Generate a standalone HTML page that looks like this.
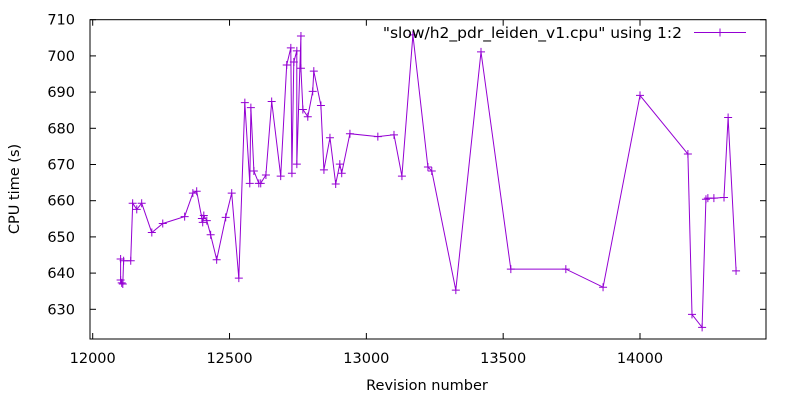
<!DOCTYPE html>
<html><head><meta charset="utf-8"><style>
html,body{margin:0;padding:0;background:#fff;}
svg{display:block;font-family:"DejaVu Sans","Liberation Sans",sans-serif;}
</style></head><body>
<svg id="chart" width="800" height="400" viewBox="0 0 800 400" xmlns="http://www.w3.org/2000/svg"></svg>
<script>
const revisions = [12102,12102,12106,12110,12113,12139,12146,12161,12179,12216,12256,12336,12366,12380,12399,12402,12406,12417,12431,12453,12486,12508,12534,12556,12574,12578,12589,12607,12614,12633,12654,12687,12709,12724,12728,12735,12746,12746,12761,12761,12768,12786,12804,12808,12834,12845,12867,12888,12903,12910,12940,13042,13101,13130,13170,13225,13239,13327,13419,13528,13729,13865,14000,14175,14190,14227,14241,14248,14270,14307,14322,14351];
const cpuTimes = [643.9,638.1,637.3,637.0,643.4,643.4,659.3,657.6,659.3,651.2,653.7,655.6,662.1,662.6,655.1,654.0,655.9,654.5,650.6,643.7,655.4,662.1,638.6,687.1,664.8,685.7,668.2,664.8,664.8,667.1,687.4,666.8,697.5,702.2,667.6,698.3,701.4,670.1,705.5,696.6,685.2,683.2,690.2,695.8,686.3,668.5,677.4,664.6,670.1,667.6,678.5,677.7,678.2,666.8,705.8,669.3,668.2,635.3,701.1,641.1,641.1,636.1,689.1,672.9,628.6,625.0,660.4,660.7,660.7,660.9,683.0,640.6];
const xTicks = [12000,12500,13000,13500,14000];
const yTicks = [630,640,650,660,670,680,690,700,710];

const NS='http://www.w3.org/2000/svg';
const svg=document.getElementById('chart');
const L=90,R=766,T=19.7,B=339;
const X0=12000,XS=0.27365;
function xs(v){return 92.7+(v-X0)*XS;}
function ys(v){return 19.7+(710-v)*3.62;}
function mk(tag,attrs,parent){const e=document.createElementNS(NS,tag);for(const k in attrs)e.setAttribute(k,attrs[k]);(parent||svg).appendChild(e);return e;}
const purple='#9400d3';
const FS='14.5';

const frame=mk('rect',{x:L,y:T,width:R-L,height:B-T,fill:'none',stroke:'#000','stroke-width':1});



const yg=mk('g',{});


yTicks.forEach(v=>{
  const y=ys(v);
  mk('line',{x1:L,y1:y,x2:L+6,y2:y,stroke:'#000'},yg);
  mk('line',{x1:R,y1:y,x2:R-6,y2:y,stroke:'#000'},yg);
  const t=mk('text',{x:75,y:y+5,'text-anchor':'end','font-size':FS,fill:'#000'},yg);
  t.textContent=v;
  
  
});
const xg=mk('g',{});


xTicks.forEach(v=>{
  const x=xs(v);
  mk('line',{x1:x,y1:B,x2:x,y2:B-6,stroke:'#000'},xg);
  mk('line',{x1:x,y1:T,x2:x,y2:T+6,stroke:'#000'},xg);
  const t=mk('text',{x:x,y:B+24,'text-anchor':'middle','font-size':FS,fill:'#000'},xg);
  t.textContent=v;
  
  
});
const xt=mk('text',{x:427,y:390,'text-anchor':'middle','font-size':FS,fill:'#000'});
xt.textContent='Revision number';


const yt=mk('text',{x:0,y:0,'text-anchor':'middle','font-size':FS,fill:'#000',transform:'translate(19,189) rotate(-90)'});
yt.textContent='CPU time (s)';



const pts=revisions.map((r,i)=>xs(r).toFixed(1)+','+ys(cpuTimes[i]).toFixed(1)).join(' ');
const line=mk('polyline',{points:pts,fill:'none',stroke:purple,'stroke-width':1});


const pg=mk('g',{stroke:purple,'stroke-width':1});


revisions.forEach((r,i)=>{
  const x=xs(r),y=ys(cpuTimes[i]);
  const p=mk('path',{d:`M${x-4},${y}H${x+4}M${x},${y-4}V${y+4}`},pg);
  
  
});

const lg=mk('g',{});


const lt=mk('text',{x:682,y:38,'text-anchor':'end','font-size':'15.5',fill:'#000'},lg);
lt.textContent='"slow/h2_pdr_leiden_v1.cpu" using 1:2';
mk('line',{x1:694,y1:32.5,x2:746,y2:32.5,stroke:purple},lg);
mk('path',{d:'M716,32.5H724M720,28.5V36.5',stroke:purple},lg);
</script>
</body></html>
